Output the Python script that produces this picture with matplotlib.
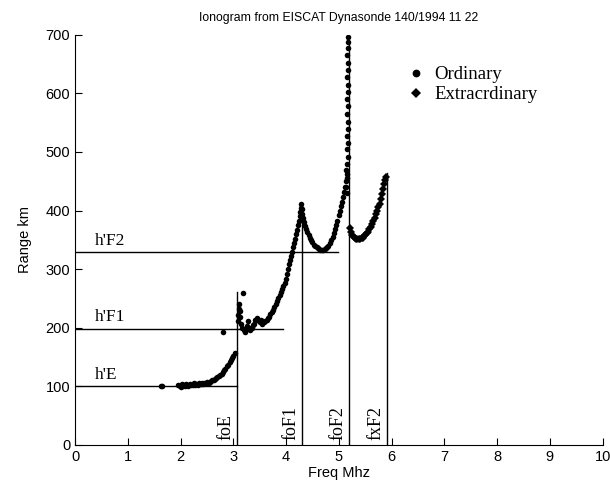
import matplotlib
matplotlib.use("Agg")
import matplotlib.pyplot as plt

# ordinary trace (freq MHz, range km)
# E layer
o_freq = [1.62, 1.64, 1.95, 1.98, 2.0, 2.02, 2.05, 2.08, 2.1, 2.12, 2.15, 2.18,
          2.2, 2.23, 2.25, 2.28, 2.3, 2.33, 2.35, 2.38, 2.4, 2.43, 2.45, 2.48,
          2.5, 2.53, 2.55, 2.58, 2.6, 2.63, 2.65, 2.68, 2.7, 2.73, 2.75, 2.78,
          2.8, 2.83, 2.85, 2.88, 2.9, 2.93, 2.95, 2.97, 3.0, 3.03, 2.8]
o_range = [101, 100, 103, 101, 99, 104, 102, 100, 104, 102, 101, 104,
           102, 103, 105, 102, 104, 103, 105, 104, 106, 104, 105, 106,
           107, 106, 108, 109, 110, 111, 112, 114, 115, 117, 119, 121,
           124, 127, 130, 134, 137, 141, 145, 149, 152, 157, 192]
# F1 and F2 layers
o_freq += [3.08, 3.09, 3.1, 3.11, 3.12, 3.13, 3.18, 3.15, 3.17, 3.2, 3.22, 3.24,
           3.26, 3.28, 3.3, 3.32, 3.35, 3.38, 3.4, 3.42, 3.45, 3.48, 3.5, 3.52,
           3.55, 3.58, 3.6, 3.63, 3.65, 3.68, 3.7, 3.73, 3.75, 3.78, 3.8, 3.83,
           3.85, 3.88, 3.9, 3.93, 3.95, 3.98, 4.0, 4.02, 4.04, 4.06, 4.08, 4.1,
           4.11, 4.13, 4.15, 4.17, 4.19, 4.21, 4.23, 4.25, 4.26, 4.27, 4.28, 4.29,
           4.3, 4.31, 4.29, 4.32, 4.33, 4.35, 4.37, 4.4, 4.43, 4.45, 4.48, 4.5,
           4.53, 4.55, 4.58, 4.6, 4.63, 4.65, 4.68, 4.7, 4.73, 4.75, 4.78, 4.8,
           4.83, 4.85, 4.88, 4.9, 4.93, 4.95, 4.97, 5.0, 5.02, 5.04, 5.06, 5.08,
           5.1, 5.12, 5.13, 5.15, 5.14]
o_range += [212, 222, 232, 240, 228, 218, 259, 207, 200, 196, 193, 198,
            203, 211, 199, 196, 200, 204, 207, 213, 217, 212, 209, 214,
            207, 210, 212, 214, 216, 219, 223, 227, 231, 236, 240, 246,
            250, 255, 261, 266, 271, 277, 284, 291, 300, 308, 316, 323,
            330, 338, 345, 352, 360, 367, 375, 382, 390, 398, 405, 411,
            402, 394, 385, 388, 380, 374, 369, 363, 358, 354, 349, 346,
            342, 340, 338, 336, 334, 333, 333, 333, 334, 336, 338, 340,
            344, 349, 355, 361, 368, 375, 383, 392, 400, 408, 415, 423,
            432, 440, 450, 462, 470]
# foF2 spike
o_freq += [5.16, 5.17, 5.16, 5.18, 5.16, 5.17, 5.18, 5.16, 5.17, 5.16, 5.18, 5.17,
           5.16, 5.17, 5.18, 5.16, 5.17, 5.17, 5.17, 5.15, 5.14, 5.16]
o_range += [480, 492, 505, 515, 527, 540, 552, 565, 578, 590, 602, 615,
            628, 640, 652, 665, 677, 688, 697, 455, 440, 430]

# extraordinary trace
x_freq = [5.21, 5.23, 5.25, 5.28, 5.3, 5.33, 5.35, 5.38, 5.4, 5.43, 5.45, 5.48,
          5.5, 5.53, 5.55, 5.58, 5.6, 5.63, 5.65, 5.68, 5.7, 5.73, 5.75, 5.78,
          5.8, 5.82, 5.84, 5.86, 5.88, 5.89]
x_range = [370, 363, 358, 355, 354, 352, 352, 351, 352, 353, 354, 356,
           358, 361, 364, 368, 372, 377, 382, 388, 394, 400, 406, 412,
           420, 428, 437, 445, 452, 458]

# virtual heights (label, range, end freq)
heights = [("h'E", 100, 3.07), ("h'F1", 198, 3.95), ("h'F2", 329, 4.98)]
# critical frequencies (label, freq, top of line)
crit = [("foE", 3.07, 261), ("foF1", 4.3, 395), ("foF2", 5.19, 690), ("fxF2", 5.91, 464)]

fig = plt.figure(figsize=(6.1, 4.91), dpi=100)
ax = fig.add_axes([0.123, 0.094, 0.865, 0.835])

ax.plot(o_freq, o_range, "o", color="black", ms=4.0, mew=0, label="Ordinary")
ax.plot(x_freq, x_range, "D", color="black", ms=3.6, mew=0, label="Extracrdinary")

for lab, r, f_end in heights:
    ax.plot([0, f_end], [r, r], color="black", lw=1)
    ax.text(0.38, r + 6, lab, family="Liberation Serif", fontsize=12.5, va="bottom")

for lab, f, top in crit:
    ax.plot([f, f], [0, top], color="black", lw=1)
    ax.text(f - 0.04, 8, lab, family="Liberation Serif", fontsize=13,
            rotation=90, ha="right", va="bottom")

ax.set_xlim(0, 10)
ax.set_ylim(0, 700)
ax.set_xticks(range(0, 11))
ax.set_yticks(range(0, 701, 100))
ax.spines["top"].set_visible(False)
ax.spines["right"].set_visible(False)
ax.tick_params(direction="in", length=5, labelsize=10.5)
for t in ax.get_xticklabels() + ax.get_yticklabels():
    t.set_family("Liberation Sans")

ax.set_xlabel("Freq Mhz", family="Liberation Sans", fontsize=10.5, labelpad=2)
ax.set_ylabel("Range km", family="Liberation Sans", fontsize=10.5, labelpad=10)
ax.set_title("Ionogram from EISCAT Dynasonde 140/1994 11 22",
             family="Liberation Sans", fontsize=8.8, pad=10)

ax.legend(loc="upper left", bbox_to_anchor=(0.6, 0.965), frameon=False,
          handlelength=0.8, handletextpad=0.6, labelspacing=0.15, markerscale=1.4,
          prop={"family": "Liberation Serif", "size": 13.5})

fig.savefig("out.png", dpi=100)
